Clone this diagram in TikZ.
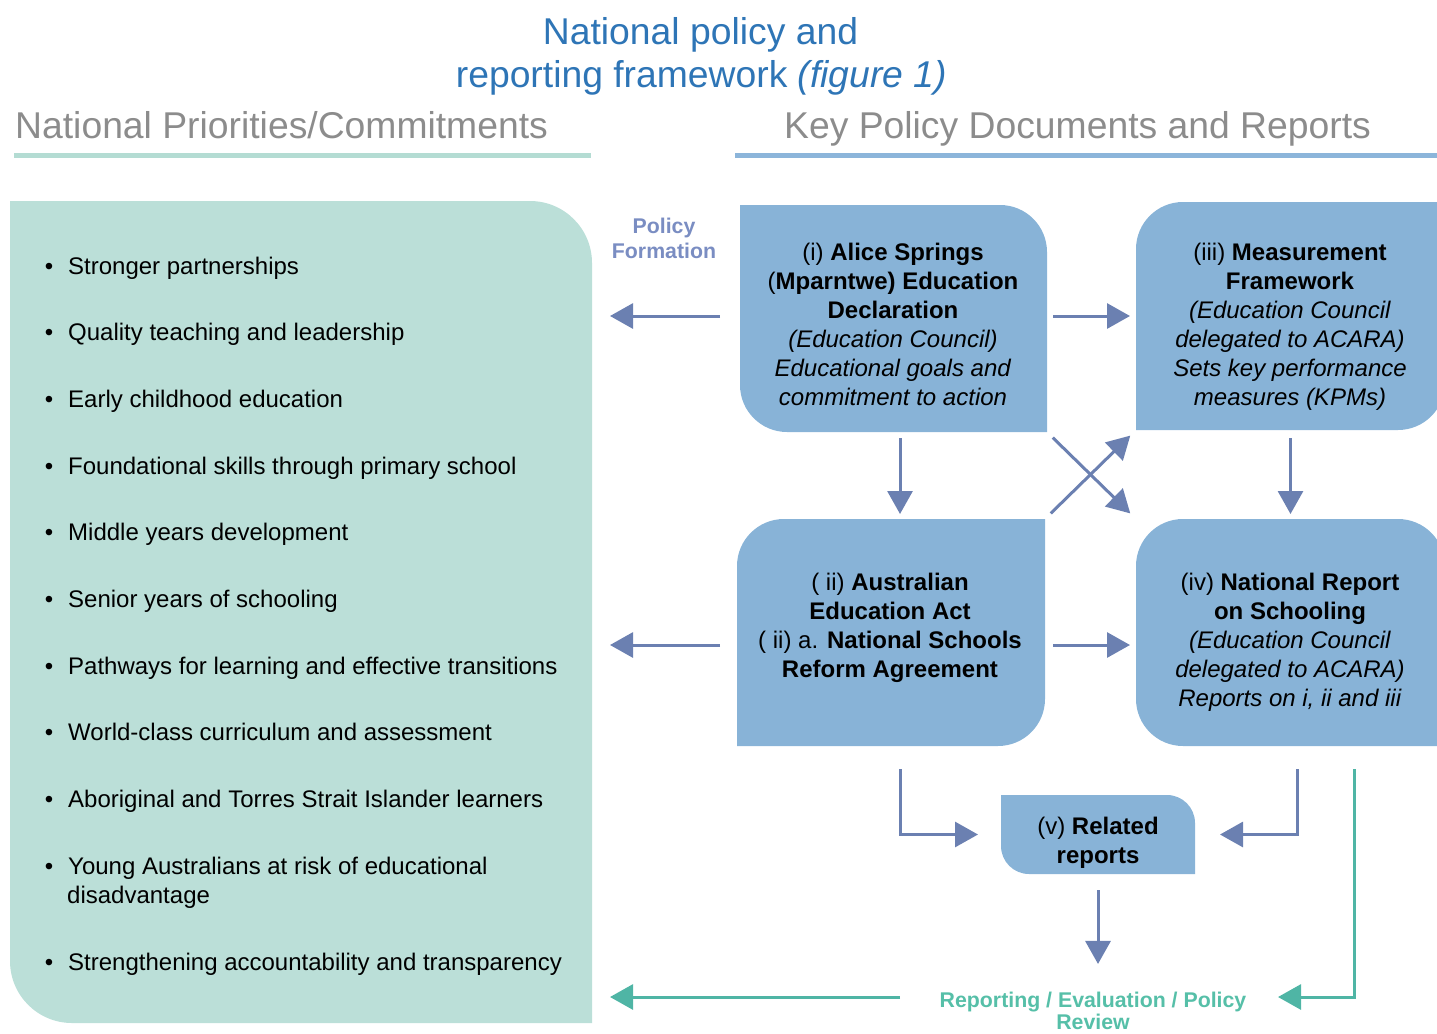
\documentclass[tikz,border=0pt]{standalone}
\usepackage{fontspec}
\setmainfont{Liberation Sans}
\usetikzlibrary{arrows.meta,calc}
\definecolor{boxblue}{HTML}{88B3D7}
\definecolor{panelgreen}{HTML}{BBDFD8}
\definecolor{arrowc}{HTML}{6B80B1}
\definecolor{tealc}{HTML}{4FB5A5}
\definecolor{titleblue}{HTML}{2E75B6}
\definecolor{headgray}{HTML}{8C8C8C}
\definecolor{pfc}{HTML}{7A8DC2}
\definecolor{tealtext}{HTML}{56BFA8}
\definecolor{hlineteal}{HTML}{B4DCD3}
\definecolor{hlineblue}{HTML}{8CB5DA}
\begin{document}
\begin{tikzpicture}[x=1pt,y=-1pt,
  arr/.style={draw=arrowc, line width=3pt, -{Triangle[length=23pt,width=25pt]}},
  tarr/.style={draw=tealc, line width=3pt, -{Triangle[length=23pt,width=25pt]}},
  shapenode/.style={inner sep=0pt, outer sep=0pt},
  boxtext/.style={align=center, inner sep=0pt, font=\fontsize{24}{29}\selectfont},
  item/.style={anchor=base west, inner sep=0pt, font=\fontsize{24}{29}\selectfont},
  bul/.style={anchor=base, inner sep=0pt, font=\fontsize{24}{29}\selectfont},
  head/.style={anchor=base west, inner sep=0pt, text=headgray, font=\fontsize{37.3}{42}\selectfont},
  ttl/.style={anchor=base, inner sep=0pt, text=titleblue, font=\fontsize{37.3}{42}\selectfont},
  ]
\useasboundingbox (0,0) rectangle (1437,1033);
\clip (0,0) rectangle (1437,1033);

% title and headings
\node[ttl] (t1) at (700.5,45) {National policy and};
\node[ttl] (t2) at (701.5,87) {reporting framework \textit{(figure 1)}};
\node[head] (h1) at (15,138) {National Priorities/Commitments};
\node[head] (h2) at (784,138) {Key Policy Documents and Reports};
\fill[hlineteal] (14,153) rectangle (591,158);
\fill[hlineblue] (735,153) rectangle (1437,158);

% shapes
\fill[panelgreen] (10,201) -- (530,201) arc[start angle=270,end angle=360,radius=62] -- (592,1023) -- (72,1023) arc[start angle=90,end angle=180,radius=62] -- cycle;
\fill[boxblue] (740,205) -- (1000,205) arc[start angle=270,end angle=360,radius=47] -- (1047,432) -- (787,432) arc[start angle=90,end angle=180,radius=47] -- cycle;
\fill[boxblue] (1183,202) -- (1445,202) -- (1445,383) arc[start angle=0,end angle=90,radius=47] -- (1136,430) -- (1136,249) arc[start angle=180,end angle=270,radius=47] -- cycle;
\fill[boxblue] (784,519) -- (1045,519) -- (1045,699) arc[start angle=0,end angle=90,radius=47] -- (737,746) -- (737,566) arc[start angle=180,end angle=270,radius=47] -- cycle;
\fill[boxblue] (1183,519) -- (1398,519) arc[start angle=270,end angle=360,radius=47] -- (1445,746) -- (1183,746) arc[start angle=90,end angle=180,radius=47] -- (1136,566) arc[start angle=180,end angle=270,radius=47] -- cycle;
\fill[boxblue] (1001,795) -- (1167,795) arc[start angle=270,end angle=360,radius=28] -- (1195,874) -- (1029,874) arc[start angle=90,end angle=180,radius=28] -- cycle;

% geometry nodes
\node[shapenode, minimum width=582pt, minimum height=822pt] (panel) at (301,612) {};
\node[shapenode, minimum width=307pt, minimum height=227pt] (i) at (893.5,318.5) {};
\node[shapenode, minimum width=309pt, minimum height=228pt] (iii) at (1290.5,316) {};
\node[shapenode, minimum width=308pt, minimum height=227pt] (ii) at (891,632.5) {};
\node[shapenode, minimum width=309pt, minimum height=227pt] (iv) at (1290.5,632.5) {};
\node[shapenode, minimum width=194pt, minimum height=79pt] (v) at (1098,834.5) {};

% box texts
\node[boxtext] (ti) at (893,324.3) {(i) \textbf{Alice Springs}\\(\textbf{Mparntwe) Education}\\\textbf{Declaration}\\\textit{(Education Council)}\\\textit{Educational goals and}\\\textit{commitment to action}};
\node[boxtext] (tiii) at (1290,326.4) {(iii) \textbf{Measurement}\\\textbf{Framework}\\\textit{(Education Council}\\\textit{delegated to ACARA)}\\\textit{Sets key performance}\\\textit{measures (KPMs)}};
\node[boxtext] (tii) at (890,628) {( ii) \textbf{Australian}\\\textbf{Education Act}\\( ii) a. \textbf{National Schools}\\\textbf{Reform Agreement}};
\node[boxtext] (tiv) at (1290,642) {(iv) \textbf{National Report}\\\textbf{on Schooling}\\\textit{(Education Council}\\\textit{delegated to ACARA)}\\\textit{Reports on i, ii and iii}};
\node[boxtext] (tv) at (1098,843) {(v) \textbf{Related}\\\textbf{reports}};

% side labels
\node[align=center, inner sep=0pt, text=pfc, font=\fontsize{21.3}{25}\selectfont\bfseries] (pf) at (664,238.5) {Policy\\Formation};
\node[align=center, inner sep=0pt, text=tealtext, font=\fontsize{21.3}{22}\selectfont\bfseries] (rep) at (1093,1011) {Reporting / Evaluation / Policy\\Review};

% bullet list
\node[bul] (d1) at (49,274) {•};   \node[item] (b1) at (68,274) {Stronger partnerships};
\node[bul] (d2) at (49,340.7) {•}; \node[item] (b2) at (68,340.7) {Quality teaching and leadership};
\node[bul] (d3) at (49,407.3) {•}; \node[item] (b3) at (68,407.3) {Early childhood education};
\node[bul] (d4) at (49,474) {•};   \node[item] (b4) at (68,474) {Foundational skills through primary school};
\node[bul] (d5) at (49,540.6) {•}; \node[item] (b5) at (68,540.6) {Middle years development};
\node[bul] (d6) at (49,607.3) {•}; \node[item] (b6) at (68,607.3) {Senior years of schooling};
\node[bul] (d7) at (49,674) {•};   \node[item] (b7) at (68,674) {Pathways for learning and effective transitions};
\node[bul] (d8) at (49,740.6) {•}; \node[item] (b8) at (68,740.6) {World-class curriculum and assessment};
\node[bul] (d9) at (49,807.3) {•}; \node[item] (b9) at (68,807.3) {Aboriginal and Torres Strait Islander learners};
\node[bul] (d10) at (49,874) {•};  \node[item] (b10) at (68,874) {Young Australians at risk of educational};
\node[item] (b10x) at (67,903) {disadvantage};
\node[bul] (d11) at (49,970.6) {•}; \node[item] (b11) at (68,970.6) {Strengthening accountability and transparency};

% helper coordinates
\coordinate (xa) at (900,0);
\coordinate (xb) at (1297,0);
\coordinate (xc) at (1354,0);
\coordinate (repL) at (900,997);
\coordinate (repR) at (1278,997);
\coordinate (pa) at ($(i.west)+(0,-2.5)$);
\coordinate (pb) at ($(ii.west)+(0,12.5)$);
\coordinate (pc) at ($(i.east)+(0,-2.5)$);
\coordinate (pd) at ($(ii.east)+(0,12.5)$);

% connectors
\draw[arr, shorten <=20pt, shorten >=18pt] (pa) -- (pa -| panel.east);
\draw[arr, shorten <=17pt, shorten >=18pt] (pb) -- (pb -| panel.east);
\draw[arr, shorten <=6pt, shorten >=6pt] (pc) -- (pc -| iii.west);
\draw[arr, shorten <=8pt, shorten >=6pt] (pd) -- (pd -| iv.west);
\draw[arr, shorten <=6pt, shorten >=5pt] (xa |- i.south) -- (xa |- ii.north);
\draw[arr, shorten <=8pt, shorten >=5pt] (iii.south) -- (iv.north);
\draw[arr, shorten <=8pt, shorten >=8pt] (i.south east) -- (iv.north west);
\draw[arr, shorten <=8pt, shorten >=8pt] (ii.north east) -- (iii.south west);
\draw[arr, shorten <=23pt, shorten >=23pt] (xa |- ii.south) |- (v.west);
\draw[arr, shorten <=23pt, shorten >=25pt] (xb |- iv.south) |- (v.east);
\draw[arr, shorten <=16pt, shorten >=28pt] (v.south) -- (v.south |- rep.north);
\draw[tarr, shorten <=23pt] (xc |- iv.south) |- (repR);
\draw[tarr, shorten >=18pt] (repL) -- (repL -| panel.east);
\end{tikzpicture}
\end{document}
